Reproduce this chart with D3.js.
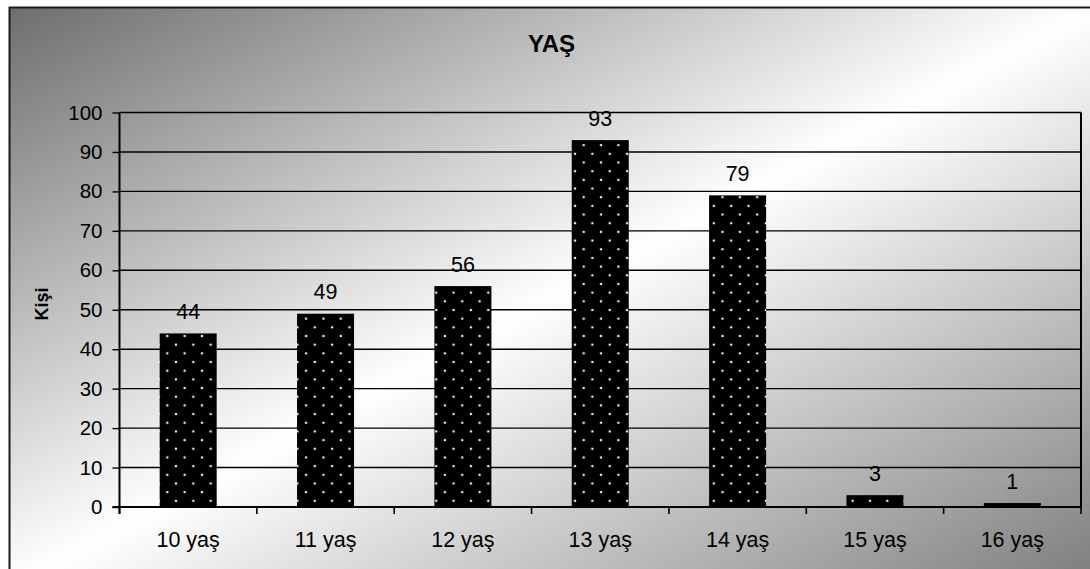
<!DOCTYPE html>
<html>
<head>
<meta charset="utf-8">
<script src="https://cdn.jsdelivr.net/npm/d3@7"></script>
<style>
  html, body { margin: 0; padding: 0; background: #fff; overflow: hidden; }
  svg { display: block; font-family: "Liberation Sans", Arial, sans-serif; }
</style>
</head>
<body>
<svg id="chart" width="1090" height="569"></svg>
<script>
// Age distribution of respondents
const categories = ["10 yaş", "11 yaş", "12 yaş", "13 yaş", "14 yaş", "15 yaş", "16 yaş"];
const values = [44, 49, 56, 93, 79, 3, 1];
const yTicks = [0, 10, 20, 30, 40, 50, 60, 70, 80, 90, 100];
const title = "YAŞ";
const yTitle = "Kişi";

const svg = d3.select("#chart");

// Chart box (extends past the right and bottom edges of the view)
const box = { x: 9.5, y: 7.5, w: 1085, h: 580 };
// Plot area
const plot = { left: 119.5, right: 1081, top: 112.5, bottom: 507 };

const defs = svg.append("defs");

// Diagonal grey-white-grey background
const grad = defs.append("linearGradient")
  .attr("id", "bg").attr("x1", 0).attr("y1", 0).attr("x2", 1).attr("y2", 1);
grad.append("stop").attr("offset", "0%").attr("stop-color", "#6e6e6e");
grad.append("stop").attr("offset", "50%").attr("stop-color", "#ffffff");
grad.append("stop").attr("offset", "100%").attr("stop-color", "#7c7c7c");

// Dotted fill for bars
const cell = 17.35;
const pat = defs.append("pattern")
  .attr("id", "dots")
  .attr("patternUnits", "userSpaceOnUse")
  .attr("x", 167.3).attr("y", 336)
  .attr("width", cell).attr("height", cell);
pat.append("rect").attr("width", cell).attr("height", cell).attr("fill", "#000");
[[0, 0], [cell / 2, cell / 2], [cell, 0], [0, cell], [cell, cell]].forEach(([cx, cy]) => {
  pat.append("circle").attr("cx", cx).attr("cy", cy).attr("r", 1.3).attr("fill", "#e8e8e8");
});

svg.append("rect")
  .attr("x", box.x).attr("y", box.y).attr("width", box.w).attr("height", box.h)
  .attr("fill", "url(#bg)").attr("stroke", "#1a1a1a").attr("stroke-width", 2);

// Scales
const padding = 0.585;
const x = d3.scaleBand()
  .domain(categories)
  .range([plot.left, plot.right])
  .paddingInner(padding)
  .paddingOuter(padding / 2);

const y = d3.scaleLinear()
  .domain([0, 100])
  .range([plot.bottom, plot.top]);

// Horizontal gridlines
svg.append("g").selectAll("line")
  .data(yTicks.filter(t => t > 0))
  .join("line")
  .attr("x1", plot.left).attr("x2", plot.right)
  .attr("y1", d => y(d)).attr("y2", d => y(d))
  .attr("stroke", "#000").attr("stroke-width", 1.4);

// Right border of plot area
svg.append("line")
  .attr("x1", plot.right).attr("x2", plot.right)
  .attr("y1", plot.top).attr("y2", plot.bottom)
  .attr("stroke", "#000").attr("stroke-width", 2);

// Bars
svg.append("g").selectAll("rect")
  .data(values)
  .join("rect")
  .attr("x", (d, i) => x(categories[i]))
  .attr("width", x.bandwidth())
  .attr("y", d => y(d))
  .attr("height", d => y(0) - y(d))
  .attr("fill", "url(#dots)");

// Value labels
svg.append("g").selectAll("text")
  .data(values)
  .join("text")
  .attr("x", (d, i) => x(categories[i]) + x.bandwidth() / 2)
  .attr("y", d => y(d) - 14.5)
  .attr("text-anchor", "middle")
  .attr("font-size", 21.5)
  .attr("fill", "#000")
  .text(d => d);

// Y axis
const yAxis = d3.axisLeft(y)
  .tickValues(yTicks)
  .tickSize(7)
  .tickPadding(10)
  .tickFormat(d3.format("d"));
const gy = svg.append("g")
  .attr("transform", `translate(${plot.left},0)`)
  .call(yAxis);
gy.select(".domain").remove();
gy.selectAll(".tick line").attr("stroke", "#000").attr("stroke-width", 1.4);
gy.selectAll(".tick text")
  .attr("font-size", 20.5)
  .attr("font-family", "Liberation Sans, Arial, sans-serif")
  .attr("fill", "#000");
svg.append("line")
  .attr("x1", plot.left).attr("x2", plot.left)
  .attr("y1", plot.top).attr("y2", plot.bottom + 7)
  .attr("stroke", "#000").attr("stroke-width", 2);

// X axis: baseline, boundary ticks and category labels
svg.append("line")
  .attr("x1", plot.left - 7).attr("x2", plot.right)
  .attr("y1", plot.bottom).attr("y2", plot.bottom)
  .attr("stroke", "#000").attr("stroke-width", 2);

const edges = categories.map(c => x(c) - (x.step() - x.bandwidth()) / 2).concat([plot.right]);
svg.append("g").selectAll("line")
  .data(edges)
  .join("line")
  .attr("x1", d => d).attr("x2", d => d)
  .attr("y1", plot.bottom).attr("y2", plot.bottom + 7)
  .attr("stroke", "#000").attr("stroke-width", 1.6);

svg.append("g").selectAll("text")
  .data(categories)
  .join("text")
  .attr("x", d => x(d) + x.bandwidth() / 2)
  .attr("y", 546.5)
  .attr("text-anchor", "middle")
  .attr("font-size", 21.5)
  .attr("fill", "#000")
  .text(d => d);

// Titles
svg.append("text")
  .attr("x", 551.5).attr("y", 52)
  .attr("text-anchor", "middle")
  .attr("font-size", 24)
  .attr("font-weight", "bold")
  .text(title);

svg.append("text")
  .attr("transform", "translate(48,304) rotate(-90)")
  .attr("text-anchor", "middle")
  .attr("font-size", 18)
  .attr("font-weight", "bold")
  .text(yTitle);
</script>
</body>
</html>
